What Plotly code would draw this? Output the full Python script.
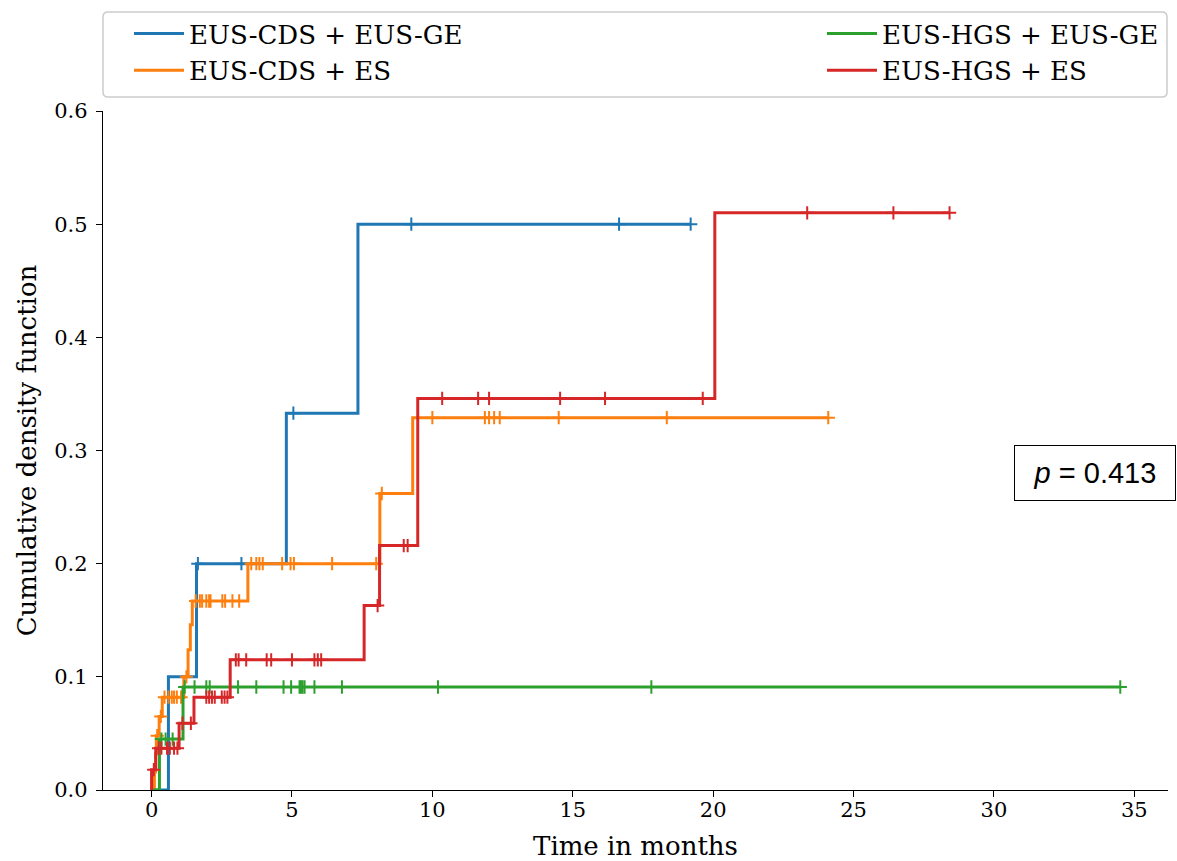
import numpy as np
import plotly.graph_objects as go

# ---- data ----
group_names = ["EUS-CDS + EUS-GE", "EUS-CDS + ES", "EUS-HGS + EUS-GE", "EUS-HGS + ES"]
group_colors = ["#1f77b4", "#ff7f0e", "#2ca02c", "#d62728"]

# EUS-CDS + EUS-GE
cds_ge_event_t = [0.6, 1.6, 4.8, 7.35]
cds_ge_event_v = [0.1, 0.2, 0.333, 0.5]
cds_ge_cens_t = [1.65, 3.2, 5.05, 9.25, 16.65, 19.2]

# EUS-CDS + ES
cds_es_event_t = [0.10, 0.14, 0.17, 0.27, 0.38, 1.15, 1.30, 1.38, 1.45, 3.43, 8.13, 9.30]
cds_es_event_v = [0.016, 0.032, 0.048, 0.065, 0.082, 0.100, 0.124, 0.146, 0.167, 0.200, 0.262, 0.329]
cds_es_cens_t = [0.2, 0.33, 0.46, 0.6, 0.72, 0.8, 0.9, 1.05, 1.24,
                 1.57, 1.72, 1.8, 1.95, 2.05, 2.1, 2.52, 2.62, 2.88, 3.12,
                 3.55, 3.73, 3.84, 3.96, 4.65, 4.95, 5.07, 6.43, 8.0, 8.2,
                 10.0, 11.87, 12.02, 12.2, 12.4, 14.5, 18.35, 24.1]

# EUS-HGS + EUS-GE
hgs_ge_event_t = [0.28, 1.12]
hgs_ge_event_v = [0.045, 0.091]
hgs_ge_cens_t = [0.35, 0.5, 0.75, 1.18, 1.53, 1.95, 2.07, 3.08, 3.73, 4.7, 4.97,
                 5.27, 5.32, 5.38, 5.45, 5.8, 6.78, 10.2, 17.8, 34.5]

# EUS-HGS + ES
hgs_es_event_t = [0.0, 0.15, 0.98, 1.51, 2.8, 7.57, 8.12, 9.48, 20.06]
hgs_es_event_v = [0.018, 0.037, 0.059, 0.082, 0.115, 0.163, 0.216, 0.346, 0.51]
hgs_es_cens_t = [0.08, 0.25, 0.35, 0.55, 0.65, 0.8, 0.92, 1.1, 1.4,
                 1.95, 2.05, 2.15, 2.25, 2.5, 2.6, 2.7,
                 3.0, 3.1, 3.37, 4.1, 4.26, 5.0, 5.8, 5.92, 6.04,
                 8.05, 8.98, 9.12, 10.35, 11.63, 12.02, 14.55, 16.15, 19.63,
                 23.35, 26.42, 28.42]

x_ticks = [0, 5, 10, 15, 20, 25, 30, 35]
y_ticks = [0.0, 0.1, 0.2, 0.3, 0.4, 0.5, 0.6]
p_text = "<i>p</i> = 0.413"

groups = [
    (cds_ge_event_t, cds_ge_event_v, cds_ge_cens_t),
    (cds_es_event_t, cds_es_event_v, cds_es_cens_t),
    (hgs_ge_event_t, hgs_ge_event_v, hgs_ge_cens_t),
    (hgs_es_event_t, hgs_es_event_v, hgs_es_cens_t),
]

SERIF = "DejaVu Serif"
fig = go.Figure()

for i, (name, color, (et, ev, ct)) in enumerate(zip(group_names, group_colors, groups)):
    et = np.array(et, float)
    ev = np.array(ev, float)
    ct = np.array(ct, float)
    t_end = max(et.max(), ct.max())
    xs = np.concatenate([[0.0], et, [t_end]])
    ys = np.concatenate([[0.0], ev, [ev[-1]]])
    legend_id = "legend" if i < 2 else "legend2"
    fig.add_trace(go.Scatter(
        x=xs, y=ys, mode="lines", line=dict(color=color, width=3, shape="hv"),
        name=name, legend=legend_id, legendgroup=name,
    ))
    idx = np.searchsorted(et, ct, side="right") - 1
    cy = np.where(idx >= 0, ev[np.clip(idx, 0, None)], 0.0)
    fig.add_trace(go.Scatter(
        x=ct, y=cy, mode="markers",
        marker=dict(symbol="cross-thin", size=9.5, color=color,
                    line=dict(color=color, width=2)),
        showlegend=False, legendgroup=name, hoverinfo="skip",
    ))

# plot area in px: x 103..1168, y 111..790
L, R, T, B = 103, 1168, 111, 790
W, H = 1177, 861
pw, ph = R - L, B - T

def px_x(p):
    return (p - L) / pw

def px_y(p):
    return (B - p) / ph

r = 5
x0, x1 = px_x(103), px_x(1167)
y0, y1 = px_y(97), px_y(12)
rx, ry = r / pw, r / ph
path = (f"M{x0+rx},{y0} L{x1-rx},{y0} Q{x1},{y0} {x1},{y0+ry} L{x1},{y1-ry} "
        f"Q{x1},{y1} {x1-rx},{y1} L{x0+rx},{y1} Q{x0},{y1} {x0},{y1-ry} "
        f"L{x0},{y0+ry} Q{x0},{y0} {x0+rx},{y0} Z")

IW = 50
fig.update_layout(
    width=W, height=H,
    margin=dict(l=L, r=W - R, t=T, b=H - B),
    paper_bgcolor="white", plot_bgcolor="white",
    font=dict(family=SERIF, color="black"),
    shapes=[dict(type="path", path=path, xref="paper", yref="paper",
                 line=dict(color="#cccccc", width=1.5), fillcolor="rgba(255,255,255,0.8)",
                 layer="below")],
    legend=dict(x=px_x(190 - IW - 11), y=px_y(10), xanchor="left", yanchor="top",
                font=dict(family=SERIF, size=26), bgcolor="rgba(0,0,0,0)",
                borderwidth=0, itemwidth=IW, tracegroupgap=0),
    legend2=dict(x=px_x(883 - IW - 11), y=px_y(10), xanchor="left", yanchor="top",
                 font=dict(family=SERIF, size=26), bgcolor="rgba(0,0,0,0)",
                 borderwidth=0, itemwidth=IW, tracegroupgap=0),
    xaxis=dict(range=[-1.73, 36.2], tickvals=x_ticks, ticks="outside", ticklen=6,
               tickwidth=1.3, tickcolor="black", showline=True, linecolor="black",
               linewidth=1.3, showgrid=False, zeroline=False, ticklabelstandoff=-5,
               automargin=False,
               tickfont=dict(family=SERIF, size=21),
               title=dict(text="Time in months", font=dict(family=SERIF, size=26),
                          standoff=16)),
    yaxis=dict(range=[0, 0.6], tickvals=y_ticks, tickformat=".1f", ticks="outside",
               ticklen=6, tickwidth=1.3, tickcolor="black", showline=True,
               linecolor="black", linewidth=1.3, showgrid=False, zeroline=False,
               ticklabelstandoff=4, automargin=False,
               tickfont=dict(family=SERIF, size=21),
               title=dict(text="Cumulative density function", font=dict(family=SERIF, size=26),
                          standoff=10)),
    annotations=[dict(x=33.6, y=0.28, xref="x", yref="y", text=p_text, showarrow=False,
                      font=dict(family="Liberation Sans", size=29, color="black"),
                      bordercolor="black", borderwidth=1, bgcolor="white",
                      width=152, height=46, borderpad=4, align="center")],
)

fig.write_html("out.html")
